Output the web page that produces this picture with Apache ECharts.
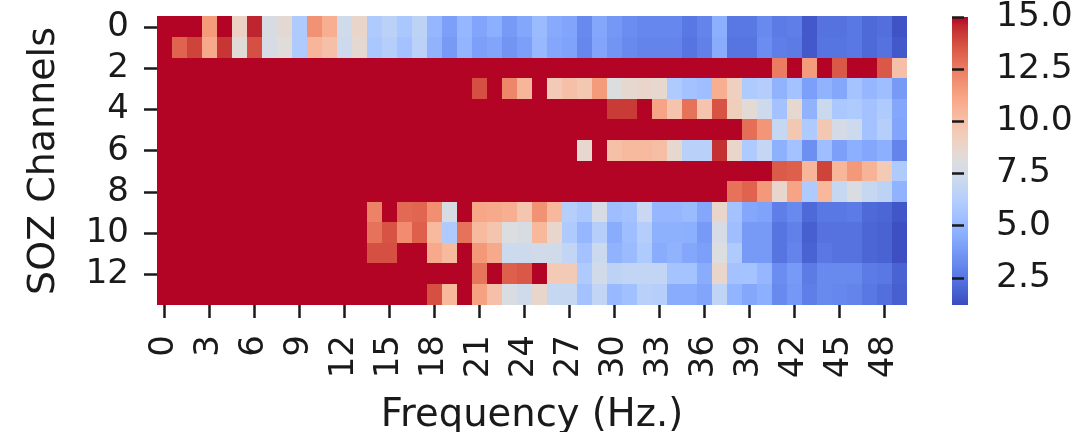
<!DOCTYPE html>
<html>
<head>
<meta charset="utf-8">
<script src="https://cdn.jsdelivr.net/npm/echarts@6/dist/echarts.min.js"></script>
<style>
  html, body { margin: 0; padding: 0; background: #ffffff; }
  #chart { width: 1080px; height: 432px; }
</style>
</head>
<body>
<div id="chart"></div>
<script>
// Frequency bins (Hz.) along x, SOZ channels along y
const frequencies = Array.from({ length: 50 }, (_, i) => String(i));
const channels = Array.from({ length: 14 }, (_, i) => String(i));

// Per-channel values, one entry per frequency bin 0..49
const ch0  = [15,15,15,11.5,15,9,14.6,7.8,8.5,6,11.8,10.8,7.4,8.8,6,6.5,5.8,6.6,5,4,5,4.2,4.6,3.8,4.3,5.2,4.4,4.2,3.2,4.3,3.7,3.3,3.1,3.1,3.1,2.6,3,4.6,2.6,2.6,3.2,2.7,2.8,1.6,2.4,2.4,2.6,2.1,2.3,1.4];
const ch1  = [15,13.2,14,11,14.3,8.3,13.7,7.7,8.2,6,10.5,10,7.3,8.5,5.8,6.3,5.5,6.5,4.8,3.8,4.9,4,4.2,3.6,4,5.1,4.3,4.1,3.1,4.2,3.6,3.2,3,3,3,2.5,2.9,4.5,2.5,2.5,3.3,2.8,2.7,1.6,2.5,2.5,2.6,2.1,2.4,1.6];
const ch2  = [15,15,15,15,15,15,15,15,15,15,15,15,15,15,15,15,15,15,15,15,15,15,15,15,15,15,15,15,15,15,15,15,15,15,15,15,15,15,15,15,15,12.5,15,11.5,15,13.5,15,15,13.5,10];
const ch3  = [15,15,15,15,15,15,15,15,15,15,15,15,15,15,15,15,15,15,15,15,15,13.7,15,12.2,10.5,15,9.5,10,9.6,11.5,8,8.6,8.8,8.6,6,5.5,5.3,10.8,9.2,6,6.2,4.8,5.5,4,4.8,4.3,5.6,5,5.3,3.8];
const ch4  = [15,15,15,15,15,15,15,15,15,15,15,15,15,15,15,15,15,15,15,15,15,15,15,15,15,15,15,15,15,15,14.2,14.2,15,11.2,9.8,12.8,9.8,13.6,9.3,8.4,7.3,5.5,8.6,4.8,7.2,5.8,6,5.5,6,4.3];
const ch5  = [15,15,15,15,15,15,15,15,15,15,15,15,15,15,15,15,15,15,15,15,15,15,15,15,15,15,15,15,15,15,15,15,15,15,15,15,15,15,15,12.9,11.7,7,9.6,6,9.6,7.6,7.3,5.5,6.3,4.2];
const ch6  = [15,15,15,15,15,15,15,15,15,15,15,15,15,15,15,15,15,15,15,15,15,15,15,15,15,15,15,15,8.6,15,10,10.3,10.3,10.1,8.6,6.4,6.4,14.4,8.8,6,6.9,4.7,5.5,3.4,5.3,4,4.6,4.3,4.6,3];
const ch7  = [15,15,15,15,15,15,15,15,15,15,15,15,15,15,15,15,15,15,15,15,15,15,15,15,15,15,15,15,15,15,15,15,15,15,15,15,15,15,15,15,15,13.4,13.3,10.5,14,10.5,11.6,10.6,9.5,6];
const ch8  = [15,15,15,15,15,15,15,15,15,15,15,15,15,15,15,15,15,15,15,15,15,15,15,15,15,15,15,15,15,15,15,15,15,15,15,15,15,15,12.8,13.2,11.6,8.7,11.2,6,10.4,7,7.9,7,6.6,4.8];
const ch9  = [15,15,15,15,15,15,15,15,15,15,15,15,15,15,12.3,15,13,13.1,11.9,7.8,15,11.1,11,10.8,9.7,11.8,10.4,6.3,5.8,7.7,5.3,5.5,7.1,5,5,5.2,4.3,8.8,5.5,4.3,4.1,2.8,3.2,2.1,2.6,2.6,2.7,2.1,2,1.5];
const ch10 = [15,15,15,15,15,15,15,15,15,15,15,15,15,15,12.8,13.6,12,13.3,10.3,6,12.8,10.3,9.8,8,7.8,10.4,8.7,6,5,6.3,4.5,5.3,6.2,4.7,4.7,4.6,3.8,7.7,5.3,3.8,3.8,2.5,2.9,1.8,2.4,2.4,2.4,2,1.9,1.3];
const ch11 = [15,15,15,15,15,15,15,15,15,15,15,15,15,15,13.7,13.7,15,15,11,10.3,15,11.6,11,7.3,7.3,7.5,7.5,6.8,5.5,7.2,4.8,5.2,6,4.5,4.8,4.3,4,8,6,3.8,3.8,2.5,3,1.9,2.6,2.4,2.4,2,1.9,1.3];
const ch12 = [15,15,15,15,15,15,15,15,15,15,15,15,15,15,15,15,15,15,15,15,15,12.7,15,13.3,13.5,15,9.5,9.5,6,7.5,6.6,6.8,6.8,6.8,5.6,5.6,4.5,8.8,5.5,5.6,5,3.3,3.8,2.7,3.2,3.2,3.2,2.7,2.6,1.9];
const ch13 = [15,15,15,15,15,15,15,15,15,15,15,15,15,15,15,15,15,15,13.7,10.4,15,11.3,10,7.9,7.4,8.7,7,7,5.5,6.8,5.1,5.4,6.4,6.3,4.5,4.5,4.2,6.7,4.9,4.3,4.6,3.2,3.7,2.8,3.2,3.1,3,2.6,2.3,1.8];

// Colour scale limits and colorbar tick labels
const scaleMin = 1.2;
const scaleMax = 15;
const colorbarTicks = [2.5, 5, 7.5, 10, 12.5, 15];

// coolwarm diverging palette, low to high
const coolwarm = [
  '#3b4cc0','#445acc','#4d68d7','#5775e1','#6282ea','#6c8ef1','#779af7','#82a5fb',
  '#8db0fe','#98b9ff','#a3c2ff','#aec9fd','#b8d0f9','#c2d5f4','#ccd9ee','#d5dbe6',
  '#dddddd','#e5d8d1','#ecd3c5','#f1ccb9','#f5c4ad','#f7bba0','#f7b194','#f7a687',
  '#f49a7b','#f18d6f','#ec7f63','#e57058','#de604d','#d55042','#cb3e38','#c0282f','#b40426'
];

const rows = [ch0, ch1, ch2, ch3, ch4, ch5, ch6, ch7, ch8, ch9, ch10, ch11, ch12, ch13];
const cells = [];
rows.forEach((row, y) => row.forEach((v, x) => cells.push([x, y, v])));

const FONT = 'DejaVu Sans';
const INK = '#1a1a1a';

// Layout of the heatmap and the colorbar
const plot = { left: 157, top: 17, width: 750, height: 288 };
const bar = { left: 952, top: 17, width: 16, height: 288 };

// One cell per (frequency, channel); edges snapped to whole pixels so rows join without seams
function renderCell(params, api) {
  const c = api.coord([api.value(0), api.value(1)]);
  const s = api.size([1, 1]);
  const x0 = Math.round(c[0] - s[0] / 2);
  const x1 = Math.round(c[0] + s[0] / 2);
  const y0 = Math.floor(c[1] - s[1] / 2);
  const y1 = Math.ceil(c[1] + s[1] / 2);
  return {
    type: 'rect',
    shape: { x: x0, y: y0, width: x1 - x0, height: y1 - y0 },
    style: { fill: api.visual('color') }
  };
}

const chart = echarts.init(document.getElementById('chart'), null, { renderer: 'canvas' });

chart.setOption({
  animation: false,
  backgroundColor: '#ffffff',
  grid: [
    { left: plot.left, top: plot.top, width: plot.width, height: plot.height, outerBoundsMode: 'none' },
    { left: bar.left, top: bar.top, width: bar.width, height: bar.height, outerBoundsMode: 'none' }
  ],
  xAxis: [
    {
      type: 'category',
      gridIndex: 0,
      data: frequencies,
      name: 'Frequency (Hz.)',
      nameLocation: 'middle',
      nameGap: 91,
      nameTextStyle: { fontFamily: FONT, fontSize: 38.5, color: INK },
      axisLine: { show: false },
      axisTick: { show: true, alignWithLabel: true, interval: 2, length: 13, lineStyle: { color: INK, width: 2.5 } },
      axisLabel: { interval: 2, rotate: 90, margin: 30, fontFamily: FONT, fontSize: 34, color: INK },
      splitLine: { show: false },
      splitArea: { show: false }
    },
    {
      type: 'value', gridIndex: 1, min: 0, max: 1, show: false
    }
  ],
  yAxis: [
    {
      type: 'category',
      gridIndex: 0,
      data: channels,
      inverse: true,
      name: 'SOZ Channels',
      nameLocation: 'middle',
      nameGap: 94,
      nameRotate: 90,
      nameTextStyle: { fontFamily: FONT, fontSize: 38, color: INK },
      axisLine: { show: false },
      axisTick: { show: true, alignWithLabel: true, interval: 1, length: 13, lineStyle: { color: INK, width: 2.5 } },
      axisLabel: { interval: 1, margin: 28, fontFamily: FONT, fontSize: 34, color: INK },
      splitLine: { show: false },
      splitArea: { show: false }
    },
    {
      type: 'value',
      gridIndex: 1,
      min: scaleMin,
      max: scaleMax,
      position: 'right',
      axisLine: { show: false },
      axisTick: { show: true, length: 12, customValues: colorbarTicks, lineStyle: { color: INK, width: 2.5 } },
      axisLabel: {
        customValues: colorbarTicks,
        margin: 28,
        fontFamily: FONT, fontSize: 34.5, color: INK,
        formatter: v => Number(v).toFixed(1)
      },
      splitLine: { show: false }
    }
  ],
  visualMap: {
    type: 'continuous',
    show: false,
    min: scaleMin,
    max: scaleMax,
    dimension: 2,
    seriesIndex: 0,
    inRange: { color: coolwarm }
  },
  graphic: [
    {
      type: 'rect',
      left: bar.left,
      top: bar.top,
      shape: { width: bar.width, height: bar.height },
      style: {
        fill: {
          type: 'linear', x: 0, y: 1, x2: 0, y2: 0,
          colorStops: coolwarm.map((c, i) => ({ offset: i / (coolwarm.length - 1), color: c }))
        }
      },
      silent: true
    }
  ],
  series: [
    {
      type: 'custom',
      xAxisIndex: 0,
      yAxisIndex: 0,
      data: cells,
      encode: { x: 0, y: 1 },
      renderItem: renderCell,
      silent: true
    }
  ]
});
</script>
</body>
</html>
